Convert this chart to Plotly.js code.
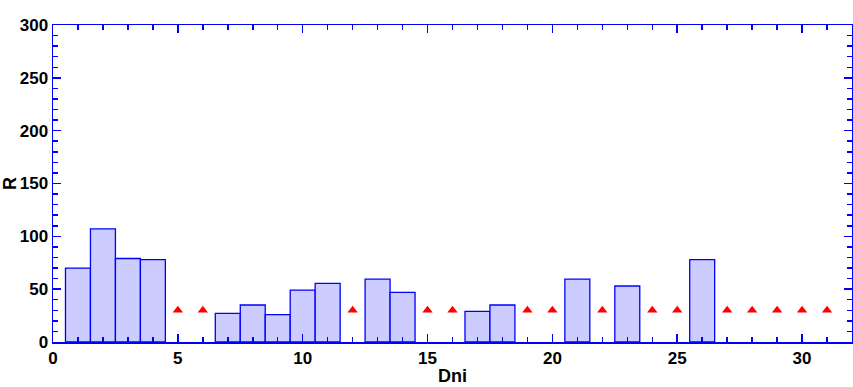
<!DOCTYPE html>
<html><head><meta charset="utf-8">
<script src="https://cdn.plot.ly/plotly-3.0.1.min.js"></script>
<style>html,body{margin:0;padding:0;background:#fff}#chart{width:853px;height:387px}</style>
</head><body><div id="chart"></div>
<script>
const barDays = [1,2,3,4,7,8,9,10,11,13,14,17,18,21,23,26];
const barValues = [70,107,79,78,27,35,26,49,55.5,59.5,47,29,35,59.5,53,78];
const missDays = [5,6,12,15,16,19,20,22,24,25,27,28,29,30,31];
const missValues = [30,30,30,30,30,30,30,30,30,30,30,30,30,30,30];

const tickFont = {family:'Liberation Sans, Arial, sans-serif', size:17, color:'#000', weight:'bold'};
const axBase = {
  showline:true, linecolor:'#0000ff', linewidth:1.5, mirror:'allticks',
  ticks:'inside', tickcolor:'#0000ff', ticklen:8, tickwidth:1.5,
  showgrid:false, zeroline:false, tickfont:tickFont
};
Plotly.newPlot('chart', [
  {type:'bar', x:barDays, y:barValues, width:1,
   marker:{color:'#ccccff', line:{color:'#0000ff', width:1.3}}, hoverinfo:'x+y'},
  {type:'scatter', mode:'markers', x:missDays, y:missValues,
   marker:{symbol:'triangle-up', color:'#ff0000', size:9}}
], {
  width:853, height:387, showlegend:false,
  paper_bgcolor:'#fff', plot_bgcolor:'#fff',
  margin:{l:53, r:1, t:25, b:45},
  bargap:0,
  xaxis:Object.assign({}, axBase, {range:[0,32], dtick:5, tick0:0,
    minor:{ticks:'inside', dtick:1, ticklen:5, tickcolor:'#0000ff', tickwidth:1.5},
    title:{text:'Dni', font:{family:'Liberation Sans, Arial, sans-serif', size:18, color:'#000', weight:'bold'}, standoff:2}}),
  yaxis:Object.assign({}, axBase, {range:[0,300], dtick:50, tick0:0,
    minor:{ticks:'inside', dtick:10, ticklen:5, tickcolor:'#0000ff', tickwidth:1.5},
    title:{text:'R', font:{family:'Liberation Sans, Arial, sans-serif', size:18, color:'#000', weight:'bold'}, standoff:1}})
}, {displayModeBar:false, staticPlot:true});
</script></body></html>
